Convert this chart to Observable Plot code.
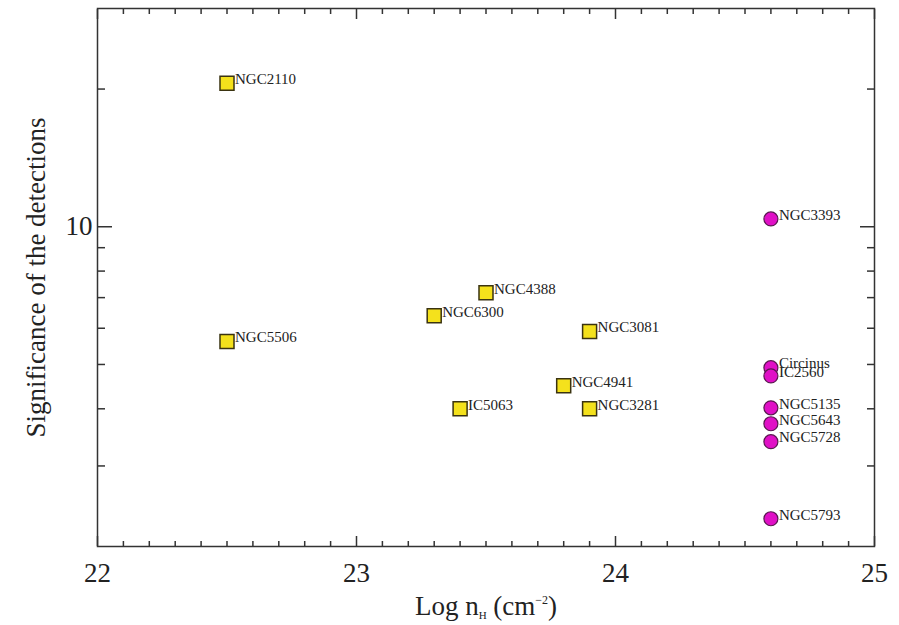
<!DOCTYPE html>
<html>
<head>
<meta charset="utf-8">
<script src="https://cdn.jsdelivr.net/npm/d3@7"></script>
<script src="https://cdn.jsdelivr.net/npm/@observablehq/plot@0.6"></script>
<style>
  body { margin: 0; background: #fff; }
  #chart svg { font-family: "Liberation Serif", "DejaVu Serif", serif; }
</style>
</head>
<body>
<div id="chart"></div>
<script>
// Compton-thin sources (yellow squares)
const squareNames  = ["NGC2110", "NGC5506", "NGC6300", "NGC4388", "IC5063", "NGC4941", "NGC3081", "NGC3281"];
const squareLogNH  = [22.5, 22.5, 23.3, 23.5, 23.4, 23.8, 23.9, 23.9];
const squareSignif = [20.6, 5.61, 6.39, 7.17, 4.00, 4.49, 5.90, 4.00];

// Compton-thick sources (magenta circles)
const circleNames  = ["NGC3393", "Circinus", "IC2560", "NGC5135", "NGC5643", "NGC5728", "NGC5793"];
const circleLogNH  = [24.6, 24.6, 24.6, 24.6, 24.6, 24.6, 24.6];
const circleSignif = [10.4, 4.92, 4.72, 4.02, 3.71, 3.39, 2.30];

// Axis ticks
const xMajorTicks = [22, 23, 24, 25];
const xMinorTicks = d3.range(22, 25.001, 0.1).map(v => +v.toFixed(1)).filter(v => !xMajorTicks.includes(v));
const yLabelTicks = [10];
const yMinorTicks = [3, 4, 5, 6, 7, 8, 9, 20];

const squares = squareNames.map((name, i) => ({name, x: squareLogNH[i], y: squareSignif[i]}));
const circles = circleNames.map((name, i) => ({name, x: circleLogNH[i], y: circleSignif[i]}));

const axisColor = "#333";

const chart = Plot.plot({
  width: 899,
  height: 625,
  marginLeft: 97,
  marginRight: 25,
  marginTop: 8,
  marginBottom: 79,
  style: {fontFamily: "Liberation Serif, serif", color: "#222", background: "#fff"},
  x: {domain: [22, 25]},
  y: {type: "log", domain: [2, 30]},
  marks: [
    // tick labels + titles
    Plot.axisX({ticks: xMajorTicks, tickSize: 0, tickPadding: 16, fontSize: 27, tickFormat: d => String(d),
      label: "Log nH (cm-2)", labelAnchor: "center", labelOffset: 68, labelArrow: "none"}),
    Plot.axisY({ticks: yLabelTicks, tickSize: 0, tickPadding: 5, fontSize: 27, tickFormat: d => String(d),
      label: "Significance of the detections", labelAnchor: "center", labelOffset: 72, labelArrow: "none"}),
    // inward ticks, bottom & top
    Plot.axisX({ticks: xMajorTicks, tickSize: -10, fill: "none", label: null, stroke: axisColor, strokeWidth: 1.5}),
    Plot.axisX({ticks: xMinorTicks, tickSize: -5, fill: "none", label: null, stroke: axisColor, strokeWidth: 1.5}),
    Plot.axisX({anchor: "top", ticks: xMajorTicks, tickSize: -10, fill: "none", label: null, stroke: axisColor, strokeWidth: 1.5}),
    Plot.axisX({anchor: "top", ticks: xMinorTicks, tickSize: -5, fill: "none", label: null, stroke: axisColor, strokeWidth: 1.5}),
    // inward ticks, left & right
    Plot.axisY({ticks: yLabelTicks, tickSize: -15, fill: "none", label: null, stroke: axisColor, strokeWidth: 1.5}),
    Plot.axisY({ticks: yMinorTicks, tickSize: -8, fill: "none", label: null, stroke: axisColor, strokeWidth: 1.5}),
    Plot.axisY({anchor: "right", ticks: yLabelTicks, tickSize: -15, fill: "none", label: null, stroke: axisColor, strokeWidth: 1.5}),
    Plot.axisY({anchor: "right", ticks: yMinorTicks, tickSize: -8, fill: "none", label: null, stroke: axisColor, strokeWidth: 1.5}),
    Plot.frame({stroke: axisColor, strokeWidth: 1.5}),
    // data
    Plot.dot(squares, {x: "x", y: "y", symbol: "square", r: 7.9, fill: "#f4e11c", stroke: "#3a3310", strokeWidth: 1.5}),
    Plot.dot(circles, {x: "x", y: "y", symbol: "circle", r: 7, fill: "#e010c6", stroke: "#5a1850", strokeWidth: 1.2}),
    Plot.text(squares, {x: "x", y: "y", text: "name", dx: 8, dy: -4, textAnchor: "start", fontSize: 15, fill: "#222"}),
    Plot.text(circles, {x: "x", y: "y", text: "name", dx: 8, dy: -4, textAnchor: "start", fontSize: 15, fill: "#222"})
  ]
});

document.getElementById("chart").appendChild(chart);

// Render subscript/superscript in the x-axis title
d3.select(chart).selectAll("text")
  .filter(function() { return this.textContent.startsWith("Log nH"); })
  .each(function() {
    const el = d3.select(this);
    el.selectAll("*").remove();
    el.text(null);
    el.append("tspan").text("Log n");
    el.append("tspan").attr("font-size", 11).attr("dy", 4).text("H");
    el.append("tspan").attr("dy", -4).text(" (cm");
    el.append("tspan").attr("font-size", 12).attr("dy", -11).text("−2");
    el.append("tspan").attr("dy", 11).text(")");
  });
</script>
</body>
</html>
